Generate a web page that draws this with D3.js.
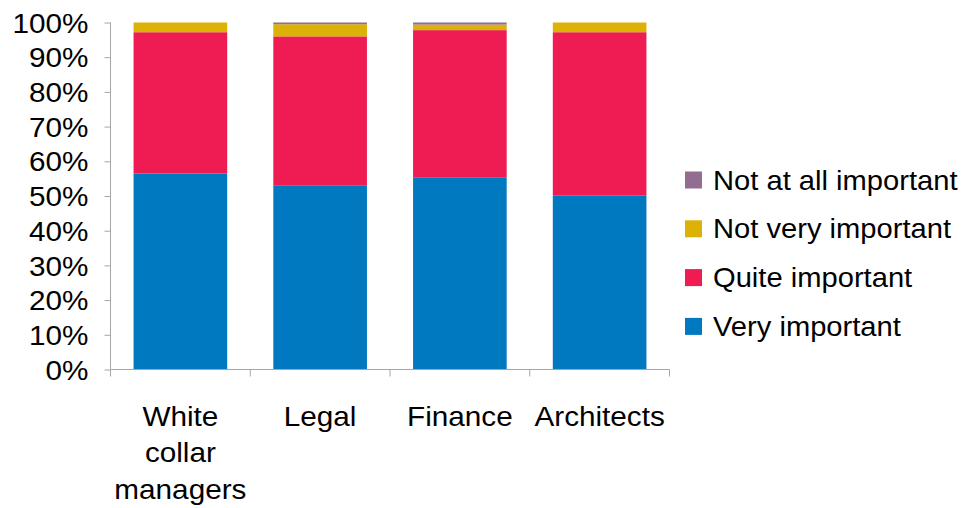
<!DOCTYPE html>
<html>
<head>
<meta charset="utf-8">
<script src="https://cdn.jsdelivr.net/npm/d3@7"></script>
<style>
  html, body { margin: 0; padding: 0; background: #ffffff; }
  svg { display: block; }
  text { font-family: "Liberation Sans", Arial, Helvetica, sans-serif; fill: #000; }
</style>
</head>
<body>
<svg id="chart" width="963" height="508"></svg>
<script>
// Share of respondents (%) by group and importance rating
const categories = ["White collar managers", "Legal", "Finance", "Architects"];
const seriesNames = ["Very important", "Quite important", "Not very important", "Not at all important"];
const veryImportant     = [56.5, 53.1, 55.4, 50.2];
const quiteImportant    = [40.7, 42.9, 42.4, 47.0];
const notVeryImportant  = [2.8, 3.5, 1.6, 2.8];
const notAtAllImportant = [0.0, 0.5, 0.6, 0.0];
const yTickValues = [0, 10, 20, 30, 40, 50, 60, 70, 80, 90, 100];
const colors = ["#0079c1", "#ee1c52", "#ddb206", "#936c91"];

const seriesValues = [veryImportant, quiteImportant, notVeryImportant, notAtAllImportant];
const rows = categories.map((c, i) => {
  const r = { category: c };
  seriesNames.forEach((s, k) => { r[s] = seriesValues[k][i]; });
  return r;
});

const svg = d3.select("#chart");
const FONT = 27.5;
const SX = 1.08;        // horizontal stretch of the axis lettering
const SX_LEGEND = 1.06; // horizontal stretch of the legend lettering

const x = d3.scaleBand()
  .domain(categories)
  .range([110.5, 669.5])
  .paddingInner(0.33)
  .paddingOuter(0.165);

const y = d3.scaleLinear().domain([0, 100]).range([369.5, 22.5]);

const color = d3.scaleOrdinal().domain(seriesNames).range(colors);

const stacked = d3.stack().keys(seriesNames)(rows);

// stacked bars
svg.append("g")
  .selectAll("g")
  .data(stacked)
  .join("g")
  .attr("fill", d => color(d.key))
  .selectAll("rect")
  .data(d => d)
  .join("rect")
  .attr("x", d => x(d.data.category))
  .attr("width", x.bandwidth())
  .attr("y", d => y(d[1]))
  .attr("height", d => Math.max(0, y(d[0]) - y(d[1])));

const axisColor = "#a6a6a6";

// y axis
const yAxis = svg.append("g")
  .attr("transform", "translate(110.5,0)")
  .call(d3.axisLeft(y).tickValues(yTickValues).tickSize(6).tickFormat(d => d + "%"));
yAxis.select(".domain").attr("stroke", axisColor).attr("d", `M0,${y(100)}V${y(0)}`);
yAxis.selectAll(".tick line").attr("stroke", axisColor);
yAxis.selectAll(".tick text").remove();
yAxis.selectAll(".tick").append("text")
  .attr("text-anchor", "end")
  .attr("dy", "0.35em")
  .attr("transform", `translate(-22,0) scale(${SX},1)`)
  .style("font-size", FONT + "px")
  .text(d => d + "%");

// x axis: baseline with ticks at category boundaries
const xAxis = svg.append("g");
xAxis.append("line")
  .attr("x1", x.range()[0]).attr("x2", x.range()[1])
  .attr("y1", y(0)).attr("y2", y(0))
  .attr("stroke", axisColor);
const boundaries = categories.map(c => x(c) - x.step() * x.paddingInner() / 2);
boundaries.push(x.range()[1]);
boundaries[0] = x.range()[0];
xAxis.selectAll("line.tick")
  .data(boundaries)
  .join("line")
  .attr("class", "tick")
  .attr("x1", d => d).attr("x2", d => d)
  .attr("y1", y(0)).attr("y2", y(0) + 7)
  .attr("stroke", axisColor);

// category labels, wrapped to the band width
const labelG = svg.append("g");
categories.forEach(c => {
  const cx = x(c) + x.bandwidth() / 2;
  const maxW = x.step();
  const words = c.split(" ");
  const lines = [];
  let line = [];
  const probe = labelG.append("text").style("font-size", FONT + "px");
  words.forEach(w => {
    const test = line.concat([w]).join(" ");
    probe.text(test);
    if (line.length && probe.node().getComputedTextLength() * SX > maxW) {
      lines.push(line.join(" "));
      line = [w];
    } else {
      line.push(w);
    }
  });
  lines.push(line.join(" "));
  probe.remove();
  lines.forEach((l, i) => {
    labelG.append("text")
      .attr("text-anchor", "middle")
      .attr("transform", `translate(${cx},${425.5 + i * 36.5}) scale(${SX},1)`)
      .style("font-size", FONT + "px")
      .text(l);
  });
});

// legend, listed top-down from the top of the stack
const legendOrder = seriesNames.slice().reverse();
const legend = svg.append("g")
  .selectAll("g")
  .data(legendOrder)
  .join("g")
  .attr("transform", (d, i) => `translate(685,${180 + i * 48.8})`);
legend.append("rect")
  .attr("x", 0).attr("y", -8.5)
  .attr("width", 17).attr("height", 17)
  .attr("fill", d => color(d));
legend.append("text")
  .attr("dy", "0.35em")
  .attr("transform", `translate(28,0) scale(${SX_LEGEND},1)`)
  .style("font-size", FONT + "px")
  .text(d => d);
</script>
</body>
</html>
